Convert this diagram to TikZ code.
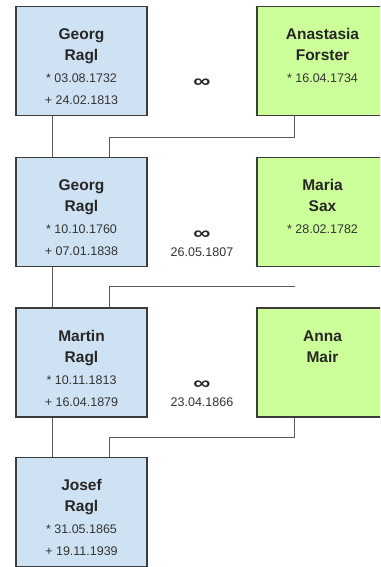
\documentclass[tikz,border=0pt]{standalone}
\usepackage{fontspec}
\setmainfont{Liberation Sans}
\usetikzlibrary{calc}
\definecolor{boxblue}{RGB}{207,226,243}
\definecolor{boxgreen}{RGB}{204,255,153}
\definecolor{boxline}{RGB}{60,60,60}
\definecolor{linkline}{RGB}{90,90,90}
\def\person[#1](#2)(#3,#4)(#5:#6:#7:#8){%
	\node[#1] (#2) at (#3,#4) {};
	\node[given] (#2-first) at ([yshift=-34]#2.north) {#5};
	\node[given] (#2-last) at ([yshift=-55]#2.north) {#6};
	\node[day] (#2-born) at ([yshift=-77]#2.north) {#7};
	\node[day] (#2-died) at ([yshift=-99]#2.north) {#8};}

\begin{document}
\begin{tikzpicture}[x=1pt, y=1pt,
	man/.style={draw=boxline, fill=boxblue, line width=1.3pt, minimum width=131, minimum height=109, inner sep=0},
	wife/.style={man, fill=boxgreen},
	given/.style={anchor=base, inner sep=0, text=black!85, font=\bfseries\fontsize{15.5}{18}\selectfont},
	day/.style={anchor=base, inner sep=0, text=black!80, font=\fontsize{12.5}{15}\selectfont},
	wed/.style={anchor=center, inner sep=0, text=black!85, font=\bfseries\fontsize{16}{18}\selectfont, xscale=1.5, yscale=1.15},
	link/.style={draw=linkline, line width=1.2pt}]
		%%%%% START %%%%%
		
		\clip (0,0) rectangle (380,-567);
		
		\person[man](p1)(81.5,-61)(Georg:Ragl:* 03.08.1732:+ 24.02.1813)
		\person[wife](w1)(322.5,-61)(Anastasia:Forster:* 16.04.1734:)
		\node[wed] (m1) at (202,-83) {∞};
		
		\person[man](p2)(81.5,-212)(Georg:Ragl:* 10.10.1760:+ 07.01.1838)
		\person[wife](w2)(322.5,-212)(Maria:Sax:* 28.02.1782:)
		\node[wed] (m2) at (202,-235) {∞};
		\node[day] (m2-date) at (202,-256) {26.05.1807};
		
		\person[man](p3)(81.5,-362.5)(Martin:Ragl:* 10.11.1813:+ 16.04.1879)
		\person[wife](w3)(322.5,-362.5)(Anna:Mair::)
		\node[wed] (m3) at (202,-385) {∞};
		\node[day] (m3-date) at (202,-406) {23.04.1866};
		
		\person[man](p4)(81.5,-512)(Josef:Ragl:* 31.05.1865:+ 19.11.1939)
		
		% father to son
		\draw[link] ([xshift=37]p1.south west) -- ([xshift=37]p2.north west);
		\draw[link] ([xshift=37]p2.south west) -- ([xshift=37]p3.north west);
		\draw[link] ([xshift=37]p3.south west) -- ([xshift=37]p4.north west);
		
		% mother to son
		\draw[link] ([xshift=38]w1.south west) -- ++(0,-21) -| ([xshift=94]p2.north west);
		\coordinate (c2) at ([xshift=280,yshift=21]p3.north west);
		\draw[link] (c2) -| ([xshift=94]p3.north west);
		\draw[link] ([xshift=38]w3.south west) -- ++(0,-20) -| ([xshift=94]p4.north west);
		
		%%%%% END %%%%%
	\end{tikzpicture}
\end{document}
